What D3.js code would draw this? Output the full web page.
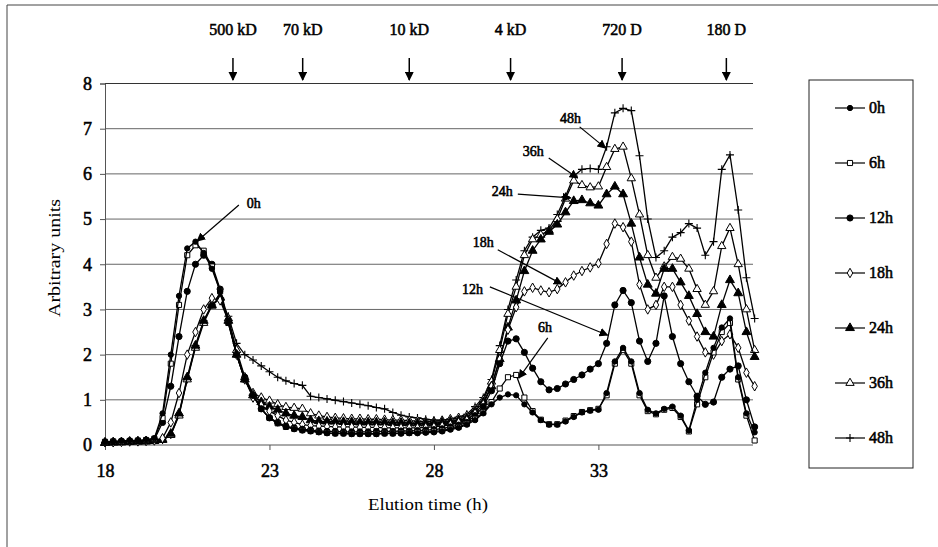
<!DOCTYPE html>
<html lang="en">
<head>
<meta charset="UTF-8">
<title>Elution profile</title>
<script src="https://cdn.jsdelivr.net/npm/d3@7/dist/d3.min.js"></script>
<style>
    body { margin: 0; background: #fff; }
    text { font-family: "Liberation Serif", "Times New Roman", serif; fill: #000; }
    .heavy { stroke: #000; stroke-width: 0.55px; }
</style>
</head>
<body>
<div id="main_container"></div>
<script>

    // elution time (h), sampled every 0.25 h
    var times = [18,18.25,18.5,18.75,19,19.25,19.5,19.75,20,20.25,
                 20.5,20.75,21,21.25,21.5,21.75,22,22.25,22.5,22.75,
                 23,23.25,23.5,23.75,24,24.25,24.5,24.75,25,25.25,
                 25.5,25.75,26,26.25,26.5,26.75,27,27.25,27.5,27.75,
                 28,28.25,28.5,28.75,29,29.25,29.5,29.75,30,30.25,
                 30.5,30.75,31,31.25,31.5,31.75,32,32.25,32.5,32.75,
                 33,33.25,33.5,33.75,34,34.25,34.5,34.75,35,35.25,
                 35.5,35.75,36,36.25,36.5,36.75,37,37.25,37.5,37.75];

    var s0h  = [0.08,0.08,0.09,0.1,0.1,0.12,0.15,0.7,2.0,3.3,
                4.35,4.5,4.25,3.9,3.4,2.7,2.0,1.45,1.1,0.8,
                0.6,0.48,0.4,0.35,0.32,0.3,0.28,0.26,0.25,0.25,
                0.24,0.24,0.24,0.24,0.25,0.25,0.25,0.26,0.26,0.27,
                0.28,0.3,0.34,0.38,0.45,0.55,0.7,0.9,1.05,1.12,
                1.1,0.9,0.72,0.55,0.45,0.45,0.52,0.62,0.72,0.76,
                0.78,1.15,1.85,2.15,1.85,1.15,0.78,0.7,0.8,0.85,
                0.65,0.32,1.0,1.6,2.15,2.6,2.8,1.5,0.7,0.28];
    var s6h  = [0.07,0.08,0.08,0.09,0.1,0.11,0.14,0.6,1.8,3.1,
                4.2,4.42,4.3,3.95,3.4,2.7,2.0,1.45,1.1,0.8,
                0.6,0.48,0.4,0.36,0.33,0.31,0.29,0.27,0.26,0.26,
                0.25,0.25,0.25,0.25,0.26,0.26,0.27,0.27,0.28,0.29,
                0.3,0.32,0.36,0.4,0.47,0.58,0.72,0.95,1.25,1.5,
                1.55,1.05,0.75,0.56,0.46,0.46,0.54,0.64,0.73,0.77,
                0.8,1.1,1.8,2.1,1.8,1.1,0.75,0.68,0.78,0.82,
                0.62,0.3,0.9,1.5,2.05,2.5,2.7,1.45,0.65,0.1];
    var s12h = [0.06,0.07,0.08,0.08,0.09,0.1,0.12,0.5,1.3,2.4,
                3.4,4.0,4.2,4.0,3.45,2.75,2.0,1.5,1.1,0.8,
                0.6,0.5,0.42,0.38,0.35,0.33,0.31,0.3,0.3,0.29,
                0.29,0.29,0.29,0.3,0.3,0.3,0.31,0.31,0.32,0.33,
                0.34,0.36,0.4,0.44,0.5,0.65,0.85,1.2,1.8,2.3,
                2.35,2.05,1.7,1.4,1.22,1.25,1.35,1.45,1.55,1.68,
                1.8,2.25,3.1,3.42,3.15,2.3,1.85,2.25,3.3,2.4,
                1.8,1.4,1.08,0.9,0.95,1.5,1.68,1.75,1.0,0.4];
    var s18h = [0.06,0.06,0.07,0.08,0.08,0.09,0.1,0.15,0.5,1.15,
                2.0,2.5,3.0,3.25,3.2,2.75,2.0,1.45,1.05,0.88,
                0.75,0.65,0.55,0.5,0.45,0.43,0.42,0.41,0.4,0.4,
                0.4,0.39,0.39,0.39,0.38,0.38,0.38,0.38,0.38,0.39,
                0.4,0.42,0.45,0.5,0.55,0.7,0.9,1.3,1.9,2.55,
                3.05,3.4,3.48,3.42,3.38,3.45,3.6,3.75,3.85,3.93,
                4.02,4.45,4.9,4.82,4.5,3.55,3.0,3.1,3.5,3.5,
                3.1,2.75,2.4,2.05,2.0,2.3,2.45,2.15,1.6,1.3];
    var s24h = [0.05,0.06,0.06,0.07,0.08,0.08,0.09,0.12,0.25,0.7,
                1.5,2.2,2.75,3.1,3.27,2.75,2.0,1.45,1.1,0.95,
                0.85,0.78,0.7,0.65,0.62,0.55,0.53,0.52,0.52,0.51,
                0.51,0.5,0.5,0.5,0.5,0.49,0.49,0.48,0.48,0.48,
                0.48,0.5,0.52,0.55,0.6,0.75,0.95,1.3,1.9,2.6,
                3.2,3.85,4.3,4.55,4.72,4.88,5.15,5.4,5.42,5.35,
                5.3,5.55,5.72,5.55,4.9,4.15,3.55,3.35,3.9,3.9,
                3.6,3.3,2.9,2.5,2.4,3.1,3.65,3.36,2.5,1.95];
    var s36h = [0.05,0.05,0.06,0.07,0.07,0.08,0.09,0.11,0.22,0.65,
                1.45,2.15,2.7,3.08,3.25,2.8,2.1,1.5,1.15,1.05,
                0.98,0.9,0.84,0.82,0.8,0.7,0.65,0.62,0.6,0.59,
                0.58,0.58,0.57,0.57,0.56,0.55,0.55,0.54,0.53,0.52,
                0.52,0.54,0.57,0.6,0.65,0.8,1.0,1.4,2.1,2.9,
                3.5,4.2,4.55,4.65,4.75,5.0,5.45,5.85,5.75,5.7,
                5.72,6.15,6.55,6.6,5.9,5.1,4.2,3.7,3.95,4.16,
                4.12,3.9,3.45,3.1,3.4,4.4,4.8,4.0,3.0,2.1];
    var s48h = [0.05,0.05,0.06,0.06,0.07,0.08,0.09,0.11,0.22,0.68,
                1.45,2.2,2.75,3.1,3.25,2.85,2.25,2.0,1.88,1.75,
                1.62,1.5,1.42,1.36,1.32,1.08,1.05,1.02,0.99,0.96,
                0.93,0.9,0.87,0.83,0.8,0.72,0.66,0.62,0.6,0.57,
                0.55,0.55,0.58,0.62,0.68,0.85,1.05,1.45,2.2,3.0,
                3.65,4.3,4.6,4.75,4.8,5.1,5.5,5.95,6.1,6.12,
                6.1,6.6,7.35,7.45,7.4,6.4,5.0,4.15,4.3,4.6,
                4.7,4.9,4.8,4.2,4.5,6.1,6.42,5.2,3.7,2.8];

    var seriesNames   = ["0h", "6h", "12h", "18h", "24h", "36h", "48h"];
    var seriesValues  = [s0h, s6h, s12h, s18h, s24h, s36h, s48h];
    var seriesMarkers = ["dot", "square", "bigdot", "diamond", "tri", "opentri", "plus"];

    var yTicks = [0, 1, 2, 3, 4, 5, 6, 7, 8];
    var xTicks = [18, 23, 28, 33];

    // molecular weight standards (elution time, h)
    var mwLabels = ["500 kD", "70 kD", "10 kD", "4 kD", "720 D", "180 D"];
    var mwTimes  = [21.89, 24.01, 27.25, 30.33, 33.72, 36.89];

    // callouts: text anchor and arrow, in data units
    var noteLabels = ["0h", "48h", "36h", "24h", "18h", "12h", "6h"];
    var noteText   = [[22.31, 5.24], [31.83, 7.13], [30.70, 6.40], [29.76, 5.51], [29.18, 4.38], [28.85, 3.34], [31.16, 2.50]];
    var noteFrom   = [[22.07, 5.31], [32.43, 7.04], [31.49, 6.35], [30.55, 5.55], [29.94, 4.32], [29.70, 3.50], [31.46, 2.37]];
    var noteTo     = [[20.80, 4.51], [33.22, 6.57], [32.37, 5.91], [32.16, 5.47], [31.89, 3.56], [33.28, 2.43], [30.58, 1.48]];

    var svgWidth = 938;
    var svgHeight = 547;

    var svg = d3.select("#main_container").append("svg")
            .attr("width", svgWidth)
            .attr("height", svgHeight);

    var x = d3.scaleLinear().domain([18, 37.7]).range([105, 753]);
    var y = d3.scaleLinear().domain([0, 8]).range([445, 83.5]);

    svg.append("defs").append("marker")
        .attr("id", "head")
        .attr("viewBox", "0 0 10 10")
        .attr("refX", 9).attr("refY", 5)
        .attr("markerWidth", 9).attr("markerHeight", 9)
        .attr("markerUnits", "userSpaceOnUse")
        .attr("orient", "auto")
        .append("path")
        .attr("d", "M0,0L10,5L0,10Z")
        .attr("fill", "#000");

    // page frame (scan edge)
    svg.append("line").attr("x1", 7).attr("y1", 5).attr("x2", 938).attr("y2", 5)
        .attr("stroke", "#444").attr("stroke-width", 1);
    svg.append("line").attr("x1", 7).attr("y1", 5).attr("x2", 7).attr("y2", 547)
        .attr("stroke", "#444").attr("stroke-width", 1);

    // gridlines
    svg.append("g").selectAll("line")
        .data(yTicks.filter(function(d){ return d > 0; }))
        .enter().append("line")
        .attr("x1", x(18)).attr("x2", x(37.7))
        .attr("y1", function(d){ return y(d); })
        .attr("y2", function(d){ return y(d); })
        .attr("stroke", function(d){ return d == 8 ? "#333" : "#666"; })
        .attr("stroke-width", 1);

    // axes
    var yAxis = d3.axisLeft(y).tickValues(yTicks).tickSize(5).tickPadding(8);
    var xAxis = d3.axisBottom(x).tickValues(xTicks).tickSize(5).tickPadding(14);

    var gy = svg.append("g").attr("transform", "translate(" + x(18) + ",0)").call(yAxis);
    var gx = svg.append("g").attr("transform", "translate(0," + y(0) + ")").call(xAxis);
    [gx, gy].forEach(function(g){
        g.attr("font-family", null).attr("font-size", null);
        g.select(".domain").attr("stroke", "#555");
        g.selectAll(".tick line").attr("stroke", "#555");
        g.selectAll(".tick text")
            .attr("class", "heavy")
            .style("font-size", "18px")
            .attr("fill", "#000");
    });
    gx.select(".domain").attr("d", "M" + x(18) + ",0H" + x(37.7));

    svg.append("text")
        .attr("transform", "translate(60,258) rotate(-90)")
        .attr("text-anchor", "middle")
        .attr("textLength", 118).attr("lengthAdjust", "spacingAndGlyphs")
        .style("font-size", "17px")
        .text("Arbitrary units");

    svg.append("text")
        .attr("x", 428).attr("y", 510)
        .attr("text-anchor", "middle")
        .attr("textLength", 120).attr("lengthAdjust", "spacingAndGlyphs")
        .style("font-size", "17px")
        .text("Elution time (h)");

    // molecular weight markers on top
    var mw = svg.append("g").selectAll("g").data(mwLabels).enter().append("g");
    mw.append("text")
        .attr("class", "heavy")
        .attr("x", function(d, i){ return x(mwTimes[i]); })
        .attr("y", 35)
        .attr("text-anchor", "middle")
        .style("font-size", "16px")
        .text(function(d){ return d; });
    mw.append("line")
        .attr("x1", function(d, i){ return x(mwTimes[i]); })
        .attr("x2", function(d, i){ return x(mwTimes[i]); })
        .attr("y1", 58).attr("y2", 80)
        .attr("stroke", "#000").attr("stroke-width", 1.5)
        .attr("marker-end", "url(#head)");

    function drawMarker(sel, type) {
        var p = sel.append("path");
        if (type == "plus") {
            p.attr("d", "M-4,0H4M0,-4V4").attr("fill", "none").attr("stroke", "#000").attr("stroke-width", 1.1);
            return p;
        }
        var sym = d3.symbolCircle, size = 22, filled = true;
        if (type == "square")  { sym = d3.symbolSquare;   size = 26; filled = false; }
        if (type == "bigdot")  { sym = d3.symbolCircle;   size = 30; }
        if (type == "diamond") { sym = d3.symbolDiamond;  size = 26; filled = false; }
        if (type == "tri")     { sym = d3.symbolTriangle; size = 34; }
        if (type == "opentri") { sym = d3.symbolTriangle; size = 30; filled = false; }
        p.attr("d", d3.symbol().type(sym).size(size)())
            .attr("fill", filled ? "#000" : "#fff")
            .attr("stroke", "#000").attr("stroke-width", 1);
        return p;
    }

    var line = d3.line()
        .x(function(d, i){ return x(times[i]); })
        .y(function(d){ return y(d); });

    // draw from the top curve down so the low ones stay visible
    for (var k = seriesNames.length - 1; k >= 0; k--) {
        var g = svg.append("g").attr("class", "series");
        g.append("path")
            .attr("d", line(seriesValues[k]))
            .attr("fill", "none")
            .attr("stroke", "#000")
            .attr("stroke-width", 1.3);
        var pts = g.selectAll(".pt").data(seriesValues[k]).enter().append("g")
            .attr("class", "pt")
            .attr("transform", function(d, i){ return "translate(" + x(times[i]) + "," + y(d) + ")"; });
        drawMarker(pts, seriesMarkers[k]);
    }

    // callouts
    var notes = svg.append("g").selectAll("g").data(noteLabels).enter().append("g");
    notes.append("text")
        .attr("class", "heavy")
        .attr("x", function(d, i){ return x(noteText[i][0]); })
        .attr("y", function(d, i){ return y(noteText[i][1]); })
        .style("font-size", "14px")
        .text(function(d){ return d; });
    notes.append("line")
        .attr("x1", function(d, i){ return x(noteFrom[i][0]); })
        .attr("y1", function(d, i){ return y(noteFrom[i][1]); })
        .attr("x2", function(d, i){ return x(noteTo[i][0]); })
        .attr("y2", function(d, i){ return y(noteTo[i][1]); })
        .attr("stroke", "#000").attr("stroke-width", 1.2)
        .attr("marker-end", "url(#head)");

    // legend
    var legend = svg.append("g");
    legend.append("rect")
        .attr("x", 809).attr("y", 80).attr("width", 104).attr("height", 388)
        .attr("fill", "none").attr("stroke", "#222").attr("stroke-width", 1);
    var items = legend.selectAll(".item").data(seriesNames).enter().append("g")
        .attr("class", "item")
        .attr("transform", function(d, i){ return "translate(0," + (108 + i * 55) + ")"; });
    items.append("line")
        .attr("x1", 835).attr("x2", 865).attr("y1", 0).attr("y2", 0)
        .attr("stroke", "#000").attr("stroke-width", 1.2);
    items.each(function(d, i){
        var m = d3.select(this).append("g").attr("transform", "translate(850,0)");
        drawMarker(m, seriesMarkers[i]);
    });
    items.append("text")
        .attr("class", "heavy")
        .attr("x", 869).attr("y", 5)
        .style("font-size", "16px")
        .text(function(d){ return d; });

</script>
</body>
</html>
